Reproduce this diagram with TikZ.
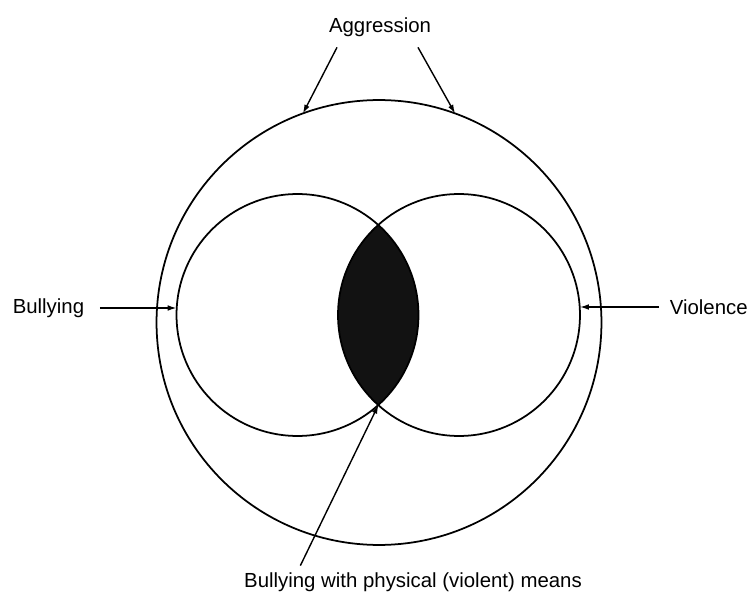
\documentclass[tikz,border=0pt]{standalone}
\usepackage{fontspec}
\setmainfont{Liberation Sans}
\usetikzlibrary{arrows.meta}
\begin{document}
\begin{tikzpicture}[x=0.02cm, y=-0.02cm, font=\fontsize{11.6}{14}\selectfont,
    ring/.style={draw, circle, line width=1pt, inner sep=0pt, outer sep=0pt, minimum size=#1},
    lbl/.style={inner sep=2pt},
    pointer/.style={-{Latex[length=5pt, width=3.2pt]}, line width=0.8pt}]
  \colorlet{lensfill}{black!93}
  \useasboundingbox (0,0) rectangle (752,595);
  % ---- overlap of the two inner circles ------------------------------------
  \coordinate (bc) at (297.5,315);
  \coordinate (vc) at (459,315);
  \begin{scope}
    \clip (bc) circle[radius=121];
    \fill[lensfill] (vc) circle[radius=121];
  \end{scope}
  % ---- circles -------------------------------------------------------------
  \node[ring=8.9cm] (aggr) at (379,322.5) {};
  \node[ring=4.84cm] (bull) at (bc) {};
  \node[ring=4.84cm] (viol) at (vc) {};
  % ---- labels --------------------------------------------------------------
  \node[lbl] (aggrlbl) at (380,27) {Aggression};
  \node[lbl, anchor=east] (bulllbl) at (88,308) {Bullying};
  \node[lbl, anchor=west] (viollbl) at (666,307) {Violence};
  \node[lbl] (meanslbl) at (413,582) {Bullying with physical (violent) means};
  % ---- pointers ------------------------------------------------------------
  \draw[pointer] ([xshift=-0.86cm, yshift=-0.14cm]aggrlbl.south) -- (aggr.110);
  \draw[pointer] ([xshift=0.76cm, yshift=-0.14cm]aggrlbl.south) -- (aggr.70);
  \draw[pointer] ([xshift=0.24cm]bulllbl.east) -- (bulllbl.east -| bull.west);
  \draw[pointer] ([xshift=-0.14cm]viollbl.west) -- (viollbl.west -| viol.east);
  \draw[pointer] ([xshift=1.2cm, yshift=0.06cm]meanslbl.north west) -- (bull.-48.1);
\end{tikzpicture}
\end{document}
